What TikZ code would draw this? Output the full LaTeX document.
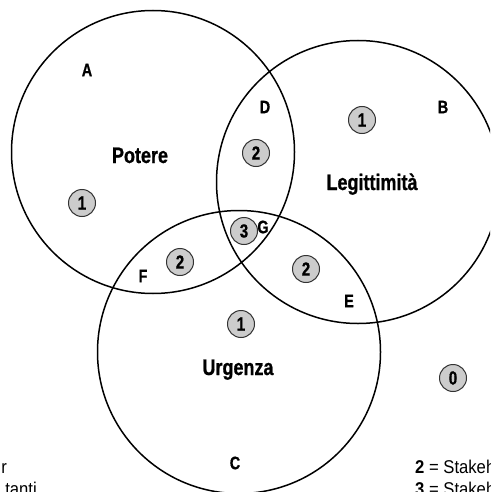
\documentclass[tikz,border=0pt]{standalone}
\usepackage{fontspec}
\setmainfont{Liberation Sans}
\newfontfamily\condfont[FakeStretch=0.8, BoldFeatures={FakeBold=0.8}]{Liberation Sans}
\newfontfamily\legfont[FakeStretch=0.9]{Liberation Sans}

\begin{document}
\begin{tikzpicture}[x=1pt,y=-1pt,
  ring/.style={draw=black, line width=1.5pt, circle, inner sep=0pt, minimum size=283pt},
  area/.style={font=\condfont\bfseries\fontsize{22.5}{26}\selectfont, inner sep=0pt, anchor=base},
  zone/.style={font=\condfont\bfseries\fontsize{18}{21}\selectfont, inner sep=0pt},
  badge/.style={circle, draw=black!80, line width=1pt, fill=black!20, minimum size=27pt,
    inner sep=0pt, font=\condfont\bfseries\fontsize{19}{21}\selectfont},
  legend/.style={font=\legfont\fontsize{18.5}{22}\selectfont, inner sep=0pt, anchor=base west}
]
\useasboundingbox (0,0) rectangle (490,492);
\clip (0,0) rectangle (490,492);

% the three attribute circles
\node[ring] (potere) at (153,152) {};
\node[ring] (legit)  at (358,182) {};
\node[ring] (urg)    at (239,352) {};

% attribute names
\node[area] (tP) at (140,163) {Potere};
\node[area] (tL) at (372,190) {Legittimità};
\node[area] (tU) at (238,375) {Urgenza};

% zone letters
\node[zone] (zA) at (87,70)   {A};
\node[zone] (zB) at (443,107) {B};
\node[zone] (zC) at (235,463) {C};
\node[zone] (zD) at (265,107) {D};
\node[zone] (zE) at (349,301) {E};
\node[zone] (zF) at (143,276) {F};
\node[zone] (zG) at (263,227) {G};

% number of attributes held
\node[badge] (n1a) at (82,203)  {1};
\node[badge] (n1b) at (362,120) {1};
\node[badge] (n1c) at (241,324) {1};
\node[badge] (n2a) at (256,153) {2};
\node[badge] (n2b) at (180,262) {2};
\node[badge] (n2c) at (306,269) {2};
\node[badge] (n3)  at (244,231) {3};
\node[badge] (n0)  at (453,378) {0};

% legend lines
\node[legend] (l2) at (415,473) {\textbf{2} = Stakeholder};
\node[legend] (l3) at (415,495) {\textbf{3} = Stakeholder};
\node[legend, anchor=base east] (lr) at (7,473) {r};
\node[legend, anchor=base east] (lt) at (37,495) {tanti};
\end{tikzpicture}
\end{document}
